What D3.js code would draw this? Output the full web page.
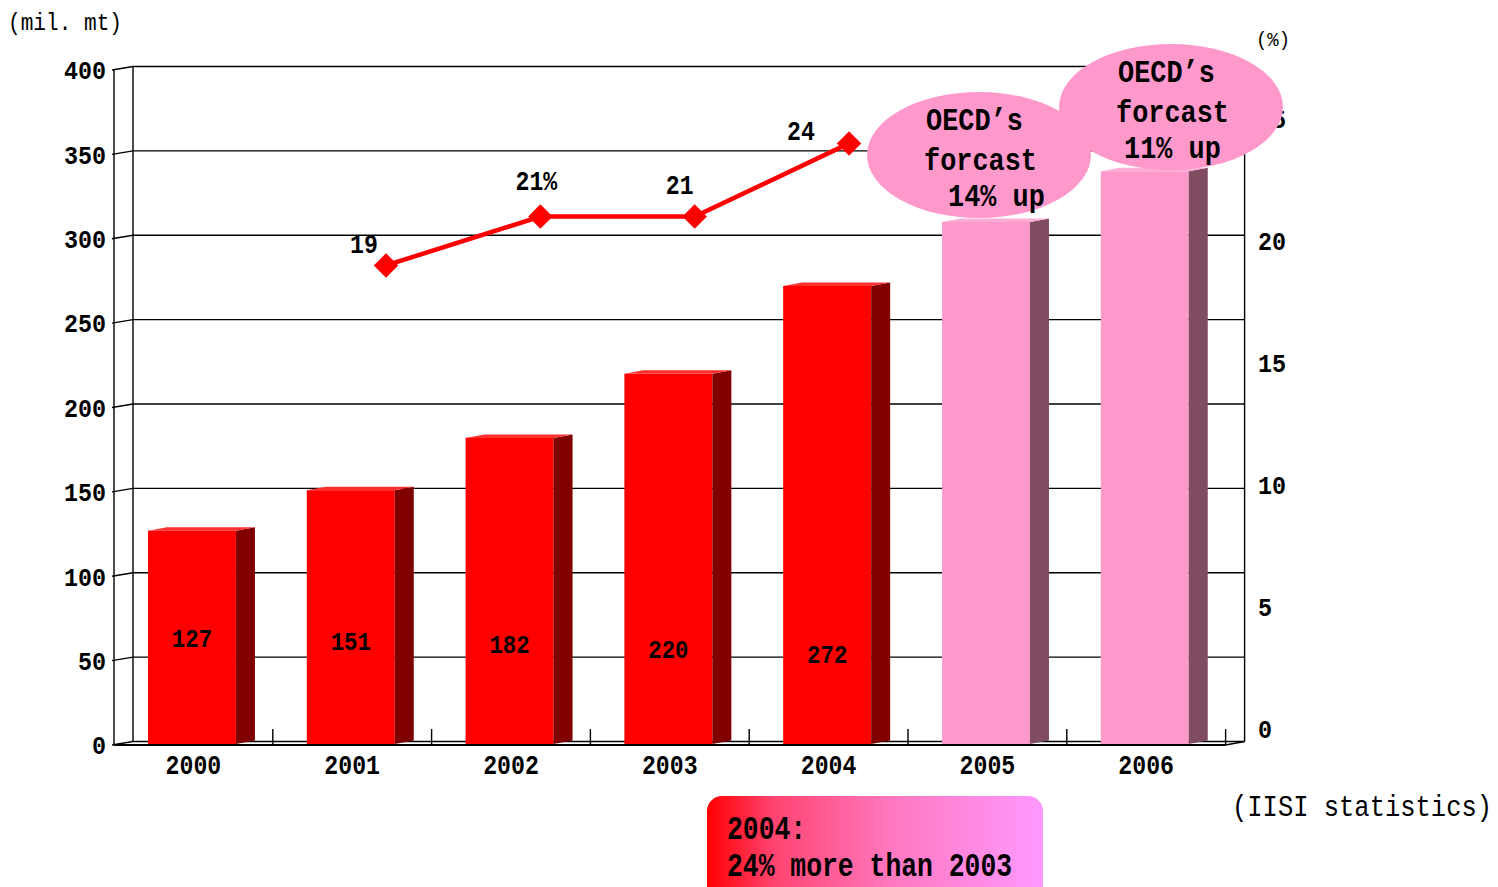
<!DOCTYPE html>
<html>
<head>
<meta charset="utf-8">
<script src="https://cdn.jsdelivr.net/npm/d3@7"></script>
<style>
  body { margin: 0; background: #fff; }
  svg { display: block; }
</style>
</head>
<body>
<svg width="1498" height="887"></svg>
<script>
// 데이터
const years = ["2000", "2001", "2002", "2003", "2004", "2005", "2006"];
const production = [127, 151, 182, 220, 272, 310, 340];   // mil. mt
const actualCount = 5;                                     // 2005, 2006 = forecast
const growthYears = ["2001", "2002", "2003", "2004"];
const growth = [19, 21, 21, 24];                           // %
const growthLabels = ["19", "21%", "21", "24"];
const leftTicks = [0, 50, 100, 150, 200, 250, 300, 350, 400];
const rightTicks = [0, 5, 10, 15, 20, 25];
const callout2005 = ["OECD’s", "forcast", "14% up"];
const callout2006 = ["OECD’s", "forcast", "11% up"];
const noteLines = ["2004:", "24% more than 2003"];

const svg = d3.select("svg");
const FONT = "'Liberation Mono', 'DejaVu Sans Mono', monospace";

// 3D 깊이 오프셋
const dx = 19, dy = -3.5;

const x = d3.scaleBand().domain(years).range([114, 1225.6]);
const yL = d3.scaleLinear().domain([0, 400]).range([745, 70]);
const yR = d3.scaleLinear().domain([0, 25]).range([729, 119]);
const xLine = d3.scalePoint().domain(years).range([231.7, 1157.7]);

// 텍스트 헬퍼 (가로로 살짝 좁힌 고딕풍)
function label(g, px, py, s, size, opt = {}) {
  return g.append("text")
    .attr("transform", `translate(${px},${py}) scale(${opt.sx || 0.86},1)`)
    .attr("dy", "0.36em")
    .attr("text-anchor", opt.anchor || "middle")
    .attr("font-family", FONT)
    .attr("font-size", size)
    .attr("font-weight", opt.weight || "bold")
    .attr("fill", "#000")
    .text(s);
}

// 뒷벽 + 격자
const x0 = x.range()[0], x1 = x.range()[1];
const grid = svg.append("g").attr("stroke", "#000").attr("stroke-width", 1.4).attr("fill", "none");
leftTicks.forEach(t => {
  grid.append("line").attr("x1", x0 + dx).attr("x2", x1 + dx)
    .attr("y1", yL(t) + dy).attr("y2", yL(t) + dy);
  grid.append("line").attr("x1", x0 - 2).attr("x2", x0 + dx)
    .attr("y1", yL(t)).attr("y2", yL(t) + dy);
});
grid.append("line").attr("x1", x0 + dx).attr("x2", x0 + dx).attr("y1", yL(400) + dy).attr("y2", yL(0) + dy);
grid.append("line").attr("x1", x1 + dx).attr("x2", x1 + dx).attr("y1", yL(400) + dy).attr("y2", yL(0) + dy);
grid.append("line").attr("x1", x0).attr("x2", x0).attr("y1", yL(400)).attr("y2", yL(0));
grid.append("line").attr("x1", x0).attr("x2", x1).attr("y1", yL(0)).attr("y2", yL(0)).attr("stroke-width", 2);
grid.append("line").attr("x1", x1).attr("x2", x1 + dx).attr("y1", yL(0)).attr("y2", yL(0) + dy);
years.forEach(yr => {
  const bx = x(yr) + x.bandwidth();
  grid.append("line").attr("x1", bx).attr("x2", bx).attr("y1", yL(0)).attr("y2", yL(0) - 16);
});

// 막대
const bw = x.bandwidth() * 0.554, boff = x.bandwidth() * 0.214;
const bars = svg.append("g");
years.forEach((yr, i) => {
  const v = production[i];
  const fx = x(yr) + boff, top = yL(v), bot = yL(0) - 1;
  const forecast = i >= actualCount;
  const front = forecast ? "#ff99cc" : "#ff0000";
  const side = forecast ? "#804c62" : "#800000";
  const lid = forecast ? "#ffadd6" : "#ff3030";
  bars.append("rect").attr("x", fx).attr("y", top).attr("width", bw).attr("height", bot - top).attr("fill", front);
  bars.append("path").attr("fill", side)
    .attr("d", `M${fx + bw},${top}L${fx + bw + dx},${top + dy}L${fx + bw + dx},${bot + dy}L${fx + bw},${bot}Z`);
  bars.append("path").attr("fill", lid)
    .attr("d", `M${fx},${top}L${fx + bw},${top}L${fx + bw + dx},${top + dy}L${fx + dx},${top + dy}Z`);
  if (!forecast) {
    label(svg, fx + bw / 2, yL(0) - 107 + (v - 127) * 0.11, String(v), 26);
  }
});

// 증가율 선
const pts = growthYears.map((yr, i) => [xLine(yr), yR(growth[i])]);
svg.append("path")
  .attr("d", d3.line()(pts))
  .attr("fill", "none").attr("stroke", "#ff0000").attr("stroke-width", 4.5);
svg.selectAll(".mk").data(pts).enter().append("path")
  .attr("d", d3.symbol(d3.symbolSquare, 300)())
  .attr("transform", d => `translate(${d[0]},${d[1]}) rotate(45)`)
  .attr("fill", "#ff0000");
const lblOff = [[-22, -22], [-4, -36], [-15, -32], [-48, -13]];
pts.forEach((p, i) => label(svg, p[0] + lblOff[i][0], p[1] + lblOff[i][1], growthLabels[i], 27));

// 축 레이블
leftTicks.forEach(t => label(svg, 106, yL(t), String(t), 26, { anchor: "end", sx: 0.9 }));
rightTicks.forEach(t => label(svg, 1258, yR(t), String(t), 26, { anchor: "start", sx: 0.9 }));
years.forEach(yr => label(svg, x(yr) + x.bandwidth() / 2, 764, yr, 27));

label(svg, 8, 21, "(mil. mt)", 24, { anchor: "start", weight: "normal", sx: 0.88 });
label(svg, 1256, 38, "(%)", 21, { anchor: "start", weight: "normal", sx: 0.9 });
label(svg, 1232, 805, "(IISI statistics)", 30, { anchor: "start", weight: "normal", sx: 0.85 });

// 말풍선 (OECD 전망)
const ell = svg.append("g");
function callout(cx, cy, lines, xs, ys) {
  ell.append("ellipse").attr("cx", cx).attr("cy", cy).attr("rx", 112).attr("ry", 63).attr("fill", "#ff99cc");
  lines.forEach((s, i) => label(ell, xs[i], ys[i], s, 32, { anchor: "start", sx: 0.84 }));
}
callout(979, 155, callout2005, [926, 924, 948], [118, 158, 194]);
callout(1171, 107, callout2006, [1118, 1116, 1124], [70, 110, 146]);

// 하단 메모 박스
const defs = svg.append("defs");
const grad = defs.append("linearGradient").attr("id", "noteGrad").attr("x1", 0).attr("x2", 1).attr("y1", 0).attr("y2", 0);
[[0, "#ff0000"], [0.2, "#ff4470"], [0.55, "#ff78c0"], [1, "#ff99ff"]].forEach(s =>
  grad.append("stop").attr("offset", s[0]).attr("stop-color", s[1]));
svg.append("rect").attr("x", 707).attr("y", 796).attr("width", 336).attr("height", 110)
  .attr("rx", 15).attr("fill", "url(#noteGrad)");
noteLines.forEach((s, i) => label(svg, 727, 827 + i * 37, s, 33, { anchor: "start", weight: "bold", sx: 0.8 }));
</script>
</body>
</html>
